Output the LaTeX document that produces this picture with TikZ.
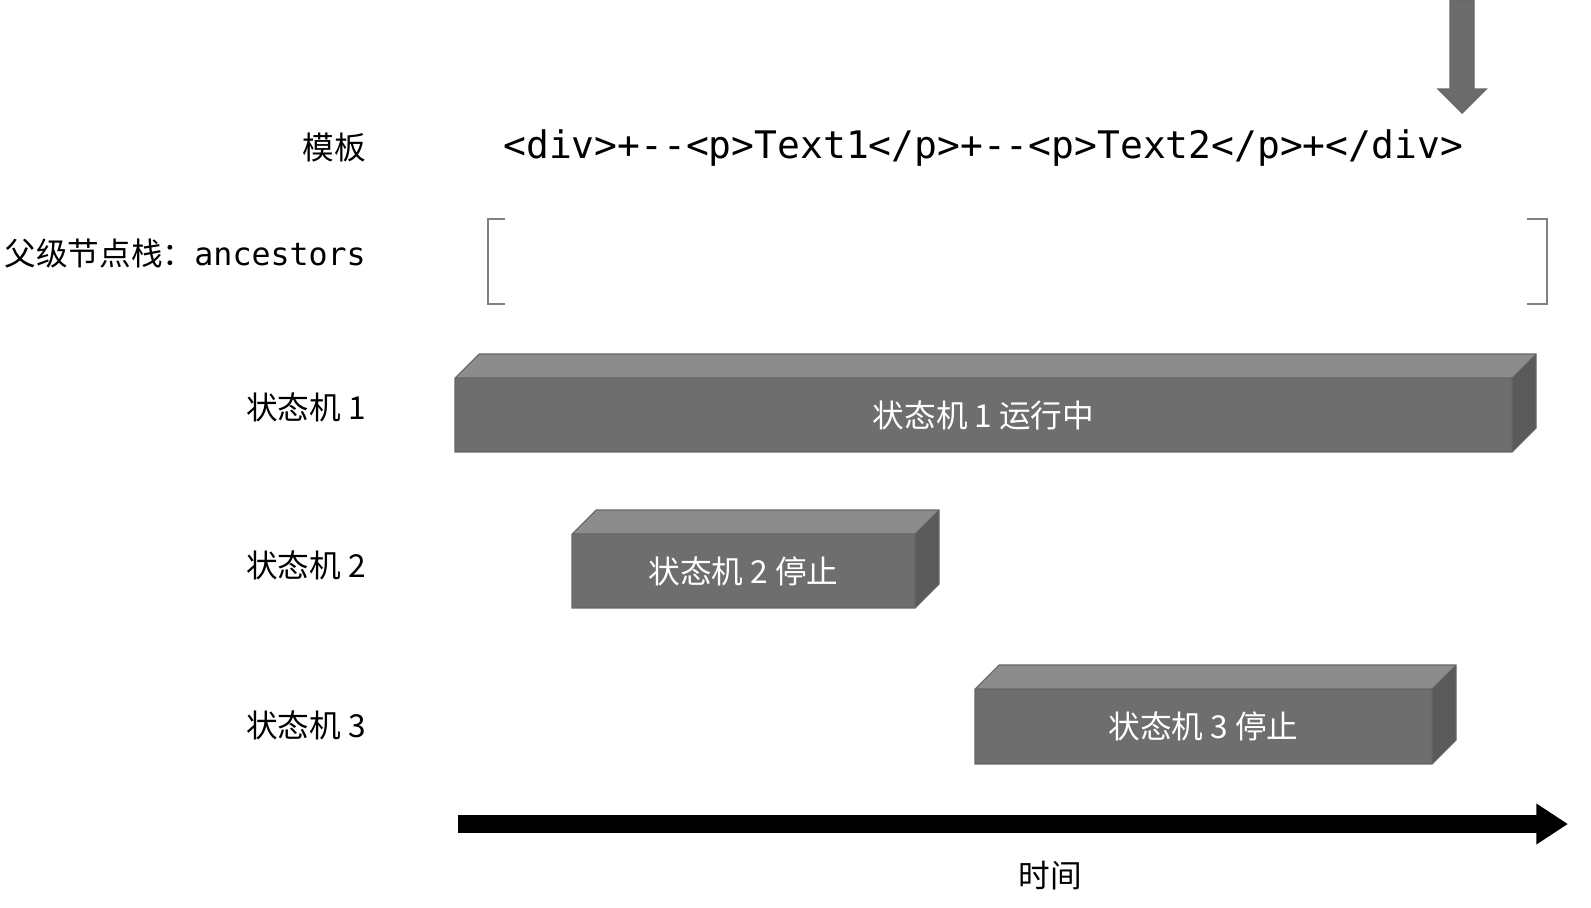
\documentclass[tikz,border=0pt]{standalone}
\usepackage{fontspec}
\setmainfont{Liberation Sans}
\newfontfamily\cjk{Noto Sans CJK SC}
\setmonofont{DejaVu Sans Mono}
\usetikzlibrary{arrows.meta}
\definecolor{frontc}{HTML}{6E6E6E}
\definecolor{topc}{HTML}{8C8C8C}
\definecolor{sidec}{HTML}{5A5A5A}
\tikzset{
  lbl/.style={anchor=east,font=\cjk\fontsize{18}{20}\selectfont},
  boxtxt/.style={text=white,font=\cjk\fontsize{18}{20}\selectfont},
}
\newcommand{\mybox}[6]{% x1 x2 y1 y2 name text
  \fill[topc] (#1,#3) -- (#1+24,#3-24) -- (#2+24,#3-24) -- (#2,#3) -- cycle;
  \fill[sidec] (#2,#3) -- (#2+24,#3-24) -- (#2+24,#4-24) -- (#2,#4) -- cycle;
  \fill[frontc] (#1,#3) rectangle (#2,#4);
  \draw[black!60,line width=0.6pt] (#1,#3) -- (#1+24,#3-24) -- (#2+24,#3-24) -- (#2+24,#4-24) -- (#2,#4) -- (#1,#4) -- cycle (#1,#3) -- (#2,#3) -- (#2+24,#3-24) (#2,#3) -- (#2,#4);
  \node[boxtxt] (#5) at ({(#1+#2)/2},{(#3+#4)/2}) {#6};
}
\begin{document}
\begin{tikzpicture}[x=0.02cm,y=-0.02cm]
\useasboundingbox (0,0) rectangle (1591,907);
% top arrow
\draw[fill=gray!85!black,draw=black!60,line width=0.8pt] (1450,0) -- (1474,0) -- (1474,89) -- (1486,89) -- (1462,113) -- (1438,89) -- (1450,89) -- cycle;
\coordinate (tip) at (1462,113);
% labels
\node[lbl] (l0) at (372,148) {模板};
\node[lbl] (l1) at (372,254) {父级节点栈：\texttt{ancestors}};
\node[lbl] (l2) at (372,407) {状态机 1};
\node[lbl] (l3) at (372,565) {状态机 2};
\node[lbl] (l4) at (372,725) {状态机 3};
% template
\node[anchor=west,inner sep=0pt,font=\ttfamily\fontsize{21.6}{24}\selectfont] (tpl) at (503,148) {<div>+--<p>Text1</p>+--<p>Text2</p>+</div>};
% brackets
\draw[gray,line width=0.8pt] (505,219) -- (488,219) -- (488,304) -- (505,304);
\draw[gray,line width=0.8pt] (1527,219) -- (1547,219) -- (1547,304) -- (1527,304);
% boxes
\mybox{455}{1512}{378}{452}{b1}{状态机 1 运行中}
\mybox{572}{915}{534}{608}{b2}{状态机 2 停止}
\mybox{975}{1432}{689}{764}{b3}{状态机 3 停止}
% time arrow
\coordinate (t0) at (458,824);
\coordinate (t1) at (1568,824);
\draw[line width=10pt,-{Triangle[length=18pt,width=22pt]}] (t0) -- (t1);
\node[font=\cjk\fontsize{18}{20}\selectfont] (time) at (1050,876) {时间};
\end{tikzpicture}
\end{document}
